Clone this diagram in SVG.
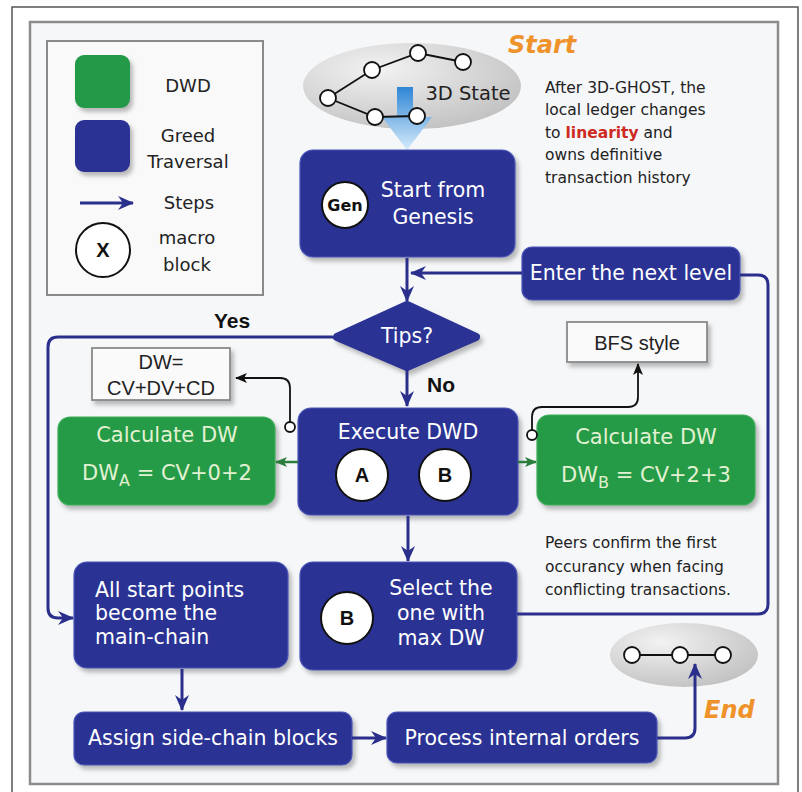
<svg xmlns="http://www.w3.org/2000/svg" width="802" height="792" viewBox="0 0 802 792">
<defs>
<style>
.t{font-family:"DejaVu Sans",Verdana,sans-serif;}
.a{font-family:"Liberation Sans",Arial,sans-serif;}
.blue{fill:#2a3194;stroke:#4a56b8;stroke-width:1.2;filter:url(#sh);}
.green{fill:#279b47;stroke:#3cae5a;stroke-width:1.2;filter:url(#sh);}
.wt{fill:#ffffff;font-size:20.5px;}
.gt{fill:#e2f1d2;font-size:21px;}
.bk{fill:#222;}
.circ{fill:#fff;stroke:#111;stroke-width:2;}
.node{fill:#fff;stroke:#111;stroke-width:1.8;}
.edge{stroke:#111;stroke-width:1.8;fill:none;}
.nv{fill:none;stroke:#2a2f8c;stroke-width:3;stroke-linejoin:round;}
.gr{fill:none;stroke:#2b7d3c;stroke-width:2.5;}
.bl{fill:none;stroke:#111;stroke-width:1.8;}
.box{fill:#fafafa;stroke:#8a8a8a;stroke-width:1.8;filter:url(#sh);}
.or{fill:#f0922a;font-weight:bold;font-style:italic;font-size:24px;}
</style>
<filter id="sh" x="-10%" y="-10%" width="130%" height="140%">
<feDropShadow dx="3" dy="4" stdDeviation="2" flood-color="#777" flood-opacity="0.5"/>
</filter>
<radialGradient id="eg" cx="0.35" cy="0.3" r="0.8">
<stop offset="0" stop-color="#f2f2f2"/>
<stop offset="1" stop-color="#bfbfbf"/>
</radialGradient>
<linearGradient id="ag" x1="0" y1="0" x2="0" y2="1">
<stop offset="0" stop-color="#2f86d6"/>
<stop offset="1" stop-color="#d6ebfa"/>
</linearGradient>
<marker id="mn" markerUnits="userSpaceOnUse" markerWidth="16" markerHeight="14" refX="15" refY="7" orient="auto">
<path d="M0,0 L16,7 L0,14 L5,7 z" fill="#2a2f8c"/>
</marker>
<marker id="mg" markerUnits="userSpaceOnUse" markerWidth="12" markerHeight="10" refX="11" refY="5" orient="auto">
<path d="M0,0 L12,5 L0,10 L3,5 z" fill="#2b7d3c"/>
</marker>
<marker id="mb" markerUnits="userSpaceOnUse" markerWidth="12" markerHeight="10" refX="11" refY="5" orient="auto">
<path d="M0,0 L12,5 L0,10 L3,5 z" fill="#111"/>
</marker>
</defs>

<rect x="0" y="0" width="802" height="792" fill="#ffffff"/>
<path d="M12,792 V7 H798 V792" fill="none" stroke="#555" stroke-width="1.5"/>
<rect x="30" y="22" width="748" height="762" fill="#f6f7f9" stroke="#8c8c8c" stroke-width="2.5"/>

<g id="legend">
<rect x="47" y="41" width="216" height="254" fill="#f9f9f9" stroke="#8a8a8a" stroke-width="2"/>
<rect x="75" y="55" width="55" height="53" rx="9" fill="#239a47" filter="url(#sh)"/>
<text class="t bk" x="188" y="92" font-size="18" text-anchor="middle">DWD</text>
<rect x="75" y="120" width="55" height="52" rx="9" fill="#2a3194" filter="url(#sh)"/>
<text class="t bk" x="188" y="142" font-size="18" text-anchor="middle">Greed</text>
<text class="t bk" x="188" y="168" font-size="18" text-anchor="middle">Traversal</text>
<path d="M80,203 H133" class="nv" marker-end="url(#mn)"/>
<text class="t bk" x="189" y="209" font-size="18" text-anchor="middle">Steps</text>
<circle cx="103" cy="250" r="27" class="circ"/>
<text class="a" x="103" y="257" font-size="20" font-weight="bold" text-anchor="middle" fill="#111">X</text>
<text class="t bk" x="187" y="244" font-size="18" text-anchor="middle">macro</text>
<text class="t bk" x="187" y="271" font-size="18" text-anchor="middle">block</text>
</g>

<g id="state3d">
<ellipse cx="412" cy="86" rx="109" ry="43" fill="url(#eg)"/>
<path d="M397,87 H413 V117 H432 L407,150 L382,117 H397 Z" fill="url(#ag)"/>
<path class="edge" d="M328,98 L372,70 L418,53 L463,62 M328,98 L375,117 L417,116"/>
<circle cx="328" cy="98" r="8" class="node"/>
<circle cx="372" cy="70" r="8" class="node"/>
<circle cx="418" cy="53" r="8" class="node"/>
<circle cx="463" cy="62" r="8" class="node"/>
<circle cx="375" cy="117" r="8" class="node"/>
<circle cx="417" cy="116" r="8" class="node"/>
<text class="t bk" x="468" y="100" font-size="19.5" text-anchor="middle">3D State</text>
<text class="t or" x="508" y="53">Start</text>
</g>

<g id="note1" class="t" font-size="15.5" fill="#222">
<text x="545" y="93">After 3D-GHOST, the</text>
<text x="545" y="115">local ledger changes</text>
<text x="545" y="138">to <tspan font-weight="bold" fill="#cc2a22">linearity</tspan> and</text>
<text x="545" y="160">owns definitive</text>
<text x="545" y="183">transaction history</text>
</g>

<g id="genesis">
<rect x="300" y="150" width="215" height="107" rx="13" class="blue"/>
<circle cx="345" cy="205" r="23" class="circ"/>
<text class="t" x="345" y="211" font-size="16" font-weight="bold" text-anchor="middle" fill="#111">Gen</text>
<text class="t wt" x="433" y="197" text-anchor="middle">Start from</text>
<text class="t wt" x="433" y="224" text-anchor="middle">Genesis</text>
</g>

<g id="nextlevel">
<rect x="522" y="247" width="218" height="53" rx="10" class="blue"/>
<text class="t wt" x="631" y="280" text-anchor="middle">Enter the next level</text>
</g>

<g id="tips">
<path d="M337,337 L407,305 L476,337 L407,367 Z" fill="#2a3194" stroke="#2a3194" stroke-width="8" stroke-linejoin="round" filter="url(#sh)"/>
<text class="t wt" x="407" y="343" text-anchor="middle">Tips?</text>
</g>

<g id="labels" class="a" font-weight="bold" font-size="21" fill="#111">
<text x="232" y="328" text-anchor="middle">Yes</text>
<text x="427" y="392">No</text>
</g>

<g id="dwformula">
<rect x="92" y="348" width="138" height="52" class="box"/>
<text class="a bk" x="161" y="369" font-size="20" text-anchor="middle">DW=</text>
<text class="a bk" x="161" y="395" font-size="20" text-anchor="middle">CV+DV+CD</text>
</g>

<g id="bfs">
<rect x="567" y="322" width="140" height="40" class="box"/>
<text class="a bk" x="637" y="350" font-size="20" text-anchor="middle">BFS style</text>
</g>

<g id="calcA">
<rect x="58" y="417" width="217" height="88" rx="12" class="green"/>
<text class="t gt" x="167" y="442" text-anchor="middle">Calculate DW</text>
<text class="t gt" x="167" y="480" text-anchor="middle">DW<tspan font-size="16" dy="6">A</tspan><tspan dy="-6"> = CV+0+2</tspan></text>
</g>

<g id="execute">
<rect x="298" y="408" width="220" height="107" rx="13" class="blue"/>
<text class="t wt" x="408" y="439" text-anchor="middle">Execute DWD</text>
<circle cx="362" cy="475" r="26" class="circ"/>
<text class="a" x="362" y="482" font-size="20" font-weight="bold" text-anchor="middle" fill="#111">A</text>
<circle cx="445" cy="475" r="26" class="circ"/>
<text class="a" x="445" y="482" font-size="20" font-weight="bold" text-anchor="middle" fill="#111">B</text>
</g>

<g id="calcB">
<rect x="537" y="415" width="218" height="90" rx="12" class="green"/>
<text class="t gt" x="646" y="444" text-anchor="middle">Calculate DW</text>
<text class="t gt" x="646" y="482" text-anchor="middle">DW<tspan font-size="16" dy="6">B</tspan><tspan dy="-6">  = CV+2+3</tspan></text>
</g>

<g id="note2" class="t" font-size="15.5" fill="#222">
<text x="545" y="548">Peers confirm the first</text>
<text x="545" y="572">occurancy when facing</text>
<text x="545" y="595">conflicting transactions.</text>
</g>

<g id="allstart">
<rect x="74" y="562" width="214" height="106" rx="13" class="blue"/>
<text class="t wt" x="95" y="597">All start points</text>
<text class="t wt" x="95" y="620">become the</text>
<text class="t wt" x="95" y="644">main-chain</text>
</g>

<g id="select">
<rect x="300" y="562" width="217" height="108" rx="13" class="blue"/>
<circle cx="347" cy="618" r="26" class="circ"/>
<text class="a" x="347" y="625" font-size="20" font-weight="bold" text-anchor="middle" fill="#111">B</text>
<text class="t wt" x="441" y="595" text-anchor="middle">Select the</text>
<text class="t wt" x="441" y="620" text-anchor="middle">one with</text>
<text class="t wt" x="441" y="645" text-anchor="middle">max DW</text>
</g>

<g id="assign">
<rect x="74" y="712" width="278" height="53" rx="10" class="blue"/>
<text class="t wt" x="213" y="745" text-anchor="middle">Assign side-chain blocks</text>
</g>

<g id="process">
<rect x="387" y="712" width="270" height="51" rx="10" class="blue"/>
<text class="t wt" x="522" y="745" text-anchor="middle">Process internal orders</text>
</g>

<g id="endstate">
<ellipse cx="684" cy="655" rx="74" ry="32" fill="url(#eg)"/>
<path class="edge" d="M632,655 H723"/>
<circle cx="632" cy="655" r="8" class="node"/>
<circle cx="680" cy="655" r="8" class="node"/>
<circle cx="723" cy="655" r="8" class="node"/>
<text class="t or" x="704" y="718">End</text>
</g>

<g id="connectors">
<path class="nv" d="M407,258 V301" marker-end="url(#mn)"/>
<path class="nv" d="M522,273 H411" marker-end="url(#mn)"/>
<path class="nv" d="M407,369 V406" marker-end="url(#mn)"/>
<path class="nv" d="M333,337 H58 Q48,337 48,347 V608 Q48,618 58,618 H73" marker-end="url(#mn)"/>
<path class="gr" d="M298,462 H276" marker-end="url(#mg)"/>
<path class="gr" d="M518,462 H536" marker-end="url(#mg)"/>
<path class="nv" d="M408,516 V561" marker-end="url(#mn)"/>
<path class="nv" d="M517,614 H758 Q768,614 768,604 V285 Q768,275 758,275 H740"/>
<path class="bl" d="M290,422 V388 Q290,378 280,378 H236" marker-end="url(#mb)"/>
<circle cx="290" cy="427" r="5" fill="#fff" stroke="#111" stroke-width="1.8"/>
<path class="bl" d="M532,430 V417 Q532,407 542,407 H628 Q638,407 638,397 V364" marker-end="url(#mb)"/>
<circle cx="532" cy="435" r="5" fill="#fff" stroke="#111" stroke-width="1.8"/>
<path class="nv" d="M182,669 V710" marker-end="url(#mn)"/>
<path class="nv" d="M352,738 H386" marker-end="url(#mn)"/>
<path class="nv" d="M657,738 H685 Q695,738 695,728 V664" marker-end="url(#mn)"/>
</g>
</svg>
